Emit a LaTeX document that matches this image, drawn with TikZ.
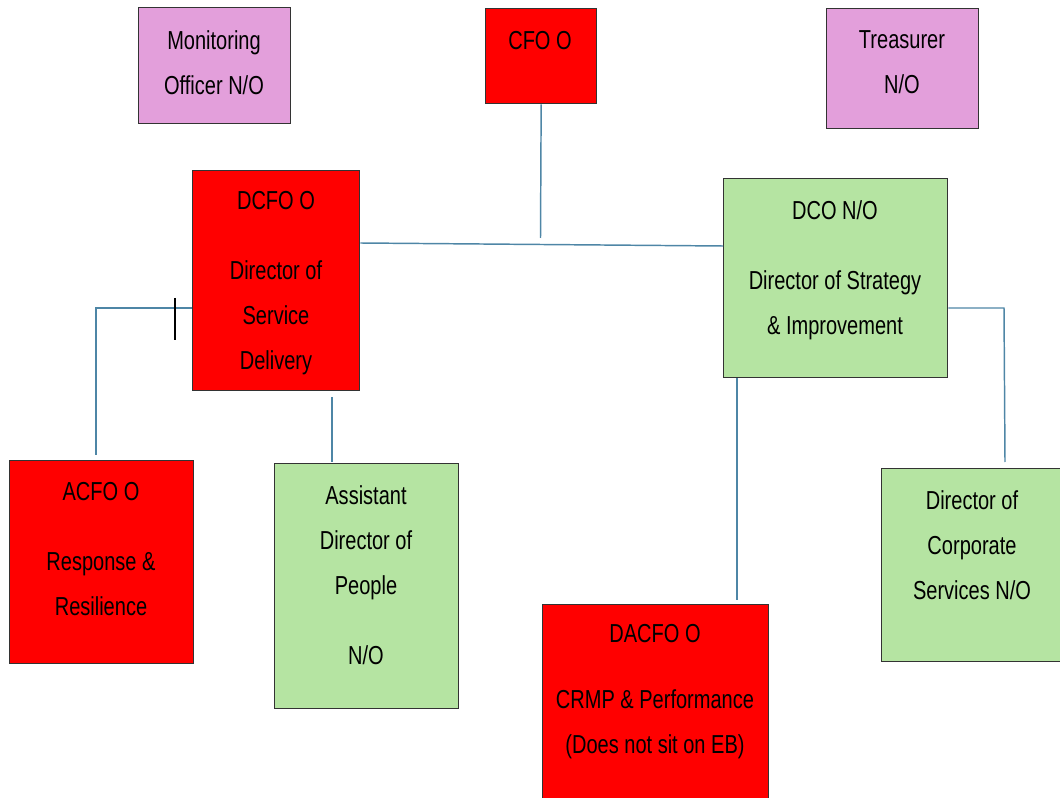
\documentclass[tikz,border=0pt]{standalone}
\usepackage{fontspec}
\setmainfont{Liberation Sans}[FakeStretch=0.77]
\begin{document}
\begin{tikzpicture}[x=0.75pt,y=-0.75pt,
  box/.style={draw=black!80,line width=1pt,inner sep=0pt,anchor=north west},
  redbox/.style={box,fill=red},
  greenbox/.style={box,fill=boxgreen},
  pinkbox/.style={box,fill=boxpink},
  txt/.style={anchor=north,align=center,inner sep=0pt,font=\fontsize{19.5pt}{33.75pt}\selectfont},
  conn/.style={draw=linkblue,line width=1.1pt},
  tick/.style={draw=black,line width=1pt}]
\definecolor{boxgreen}{RGB}{181,228,162}
\definecolor{boxpink}{RGB}{227,159,219}
\definecolor{linkblue}{RGB}{78,134,166}
\useasboundingbox (0,0) rectangle (1060,798);
\clip (0,0) rectangle (1060,798);
% boxes
\node[pinkbox,minimum width=114pt,minimum height=87pt] (mo) at (138,7) {};
\node[redbox,minimum width=83.25pt,minimum height=71.25pt] (cfo) at (485,8) {};
\node[pinkbox,minimum width=114pt,minimum height=90pt] (tr) at (826,8) {};
\node[redbox,minimum width=125.25pt,minimum height=165pt] (dcfo) at (192,170) {};
\node[greenbox,minimum width=168pt,minimum height=149.25pt] (dco) at (723,178) {};
\node[redbox,minimum width=138pt,minimum height=152.25pt] (acfo) at (9,460) {};
\node[greenbox,minimum width=138pt,minimum height=183.75pt] (adp) at (274,463) {};
\node[redbox,minimum width=169.5pt,minimum height=160pt] (dacfo) at (542,604) {};
\node[greenbox,minimum width=140pt,minimum height=144.75pt] (dcs) at (881,468) {};
% texts
\node[txt] (tmo) at (214,30) {Monitoring\\Officer N/O};
\node[txt] (tcfo) at (540,31) {CFO O};
\node[txt] (ttr) at (902,30) {Treasurer\\N/O};
\node[txt] (tdcfo) at (276,191) {DCFO O\\[18.75pt]Director of\\Service\\Delivery};
\node[txt] (tdco) at (835,200) {DCO N/O\\[18.75pt]Director of Strategy\\\& Improvement};
\node[txt] (tacfo) at (101,482) {ACFO O\\[18.75pt]Response \&\\Resilience};
\node[txt] (tadp) at (366,485) {Assistant\\Director of\\People\\[18.75pt]N/O};
\node[txt] (tdacfo) at (655,624) {DACFO O\\[16pt]CRMP \& Performance\\(Does not sit on EB)};
\node[txt] (tdcs) at (972,490) {Director of\\Corporate\\Services N/O};
% connector coordinates
\coordinate (c1) at (540.5,238);
\coordinate (h1) at (0,243);
\coordinate (h2) at (0,246);
\coordinate (lc) at (96,308);
\coordinate (la) at (96,455);
\coordinate (tk1) at (175,298);
\coordinate (tk2) at (175,340);
\coordinate (p1) at (332,397);
\coordinate (p2) at (332,462);
\coordinate (d1) at (737,0);
\coordinate (d2) at (737,600);
\coordinate (rc) at (1004,308);
\coordinate (ra) at (1005,462);
% connectors
\draw[conn] (cfo.south) -- (c1);
\draw[conn] (dcfo.east |- h1) -- (dco.west |- h2);
\draw[conn] (dcfo.west |- lc) -- (lc) -- (la);
\draw[tick] (tk1) -- (tk2);
\draw[conn] (p1) -- (p2);
\draw[conn] (dco.south -| d1) -- (d2);
\draw[conn] (dco.east |- rc) -- (rc) -- (ra);
\end{tikzpicture}
\end{document}
